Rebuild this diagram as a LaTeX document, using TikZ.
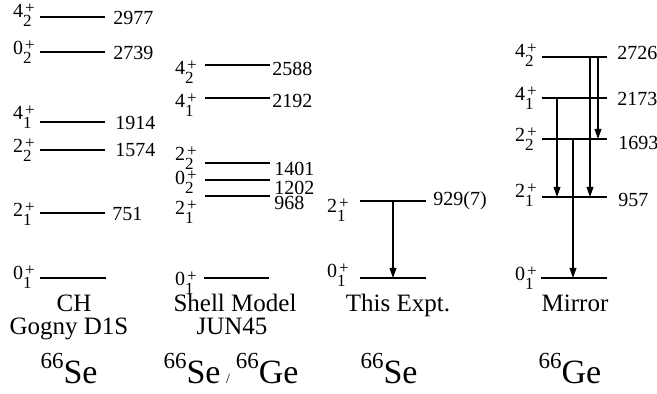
\documentclass[tikz,border=0pt]{standalone}
\usepackage{fontspec}
\setmainfont{Liberation Serif}
\usepackage{tikz}
\usetikzlibrary{arrows.meta}
\newcommand{\jpi}[2]{#1\rlap{\kern1pt\raisebox{0.22em}{\fontsize{8.5}{9}\selectfont+}}\raisebox{-0.42em}{\fontsize{8.5}{9}\selectfont#2}\hspace{2pt}}
\newcommand{\nuc}[2]{\raisebox{0.42em}{\fontsize{11.5}{12}\selectfont#1}#2}
\tikzset{
  lvl/.style={line width=0.6pt},
  gam/.style={line width=0.6pt, -{Triangle[length=5pt,width=3.4pt]}},
  en/.style={anchor=west, inner sep=0pt, font=\fontsize{10}{12}\selectfont},
  jp/.style={anchor=base east, inner sep=0pt, font=\fontsize{10}{12}\selectfont},
  ttl/.style={anchor=base, inner sep=0pt, font=\fontsize{12.5}{14}\selectfont},
  iso/.style={anchor=base, inner sep=0pt, font=\fontsize{17}{20}\selectfont}
}

\begin{document}
\begin{tikzpicture}[x=0.5pt, y=-0.5pt]
  \useasboundingbox (0,0) rectangle (657,394);

  \draw[lvl] (40,17) coordinate (ch42) -- (105,17);
  \draw[lvl] (40,52) coordinate (ch02) -- (105,52);
  \draw[lvl] (40,122) coordinate (ch41) -- (105,122);
  \draw[lvl] (40,150) coordinate (ch22) -- (105,150);
  \draw[lvl] (40,213) coordinate (ch21) -- (105,213);
  \draw[lvl] (40,278) coordinate (ch01) -- (106,278);
  \node[en] (ch42e) at (113,18) {2977};
  \node[en] (ch02e) at (113,53) {2739};
  \node[en] (ch41e) at (115,123) {1914};
  \node[en] (ch22e) at (115,150) {1574};
  \node[en] (ch21e) at (112,214) {751};
  \node[jp] (ch42j) at (32,18) {\jpi{4}{2}};
  \node[jp] (ch02j) at (32,55) {\jpi{0}{2}};
  \node[jp] (ch41j) at (32,120) {\jpi{4}{1}};
  \node[jp] (ch22j) at (32,153) {\jpi{2}{2}};
  \node[jp] (ch21j) at (32,217) {\jpi{2}{1}};
  \node[jp] (ch01j) at (32,280) {\jpi{0}{1}};
  \node[ttl] (chname) at (74,312) {CH};
  \node[ttl] (chint) at (69,335) {Gogny D1S};
  \node[iso] (chnuc) at (69,383) {\nuc{66}{Se}};

  \draw[lvl] (205,65) coordinate (sm42) -- (270,65);
  \draw[lvl] (205,98) coordinate (sm41) -- (270,98);
  \draw[lvl] (205,163) coordinate (sm22) -- (270,163);
  \draw[lvl] (205,180) coordinate (sm02) -- (270,180);
  \draw[lvl] (205,196) coordinate (sm21) -- (270,196);
  \draw[lvl] (204,278) coordinate (sm01) -- (269,278);
  \node[en] (sm42e) at (272,69) {2588};
  \node[en] (sm41e) at (272,101) {2192};
  \node[en] (sm22e) at (274,169) {1401};
  \node[en] (sm02e) at (274,188) {1202};
  \node[en] (sm21e) at (274,203) {968};
  \node[jp] (sm42j) at (194,75) {\jpi{4}{2}};
  \node[jp] (sm41j) at (194,108) {\jpi{4}{1}};
  \node[jp] (sm22j) at (194,161) {\jpi{2}{2}};
  \node[jp] (sm02j) at (194,185) {\jpi{0}{2}};
  \node[jp] (sm21j) at (194,215) {\jpi{2}{1}};
  \node[jp] (sm01j) at (194,286) {\jpi{0}{1}};
  \node[ttl] (smname) at (235,312) {Shell Model};
  \node[ttl] (smint) at (232,335) {JUN45};
  \node[iso] (smnuc) at (231,383) {\nuc{66}{Se}\,{\fontsize{7}{8}\selectfont/}\,\nuc{66}{Ge}};

  \draw[lvl] (360,201) coordinate (ex21) -- (426,201);
  \draw[lvl] (360,278) coordinate (ex01) -- (426,278);
  \node[en] (ex21e) at (433,201) {929(7)};
  \node[jp] (ex21j) at (346,213) {\jpi{2}{1}};
  \node[jp] (ex01j) at (346,278) {\jpi{0}{1}};
  \coordinate (exg) at (393,0);
  \draw[gam] (exg |- ex21) -- (exg |- ex01);
  \node[ttl] (exname) at (398,312) {This Expt.};
  \node[iso] (exnuc) at (389,383) {\nuc{66}{Se}};

  \draw[lvl] (542,57) coordinate (mi42) -- (607,57);
  \draw[lvl] (542,98) coordinate (mi41) -- (607,98);
  \draw[lvl] (542,139) coordinate (mi22) -- (607,139);
  \draw[lvl] (542,197) coordinate (mi21) -- (607,197);
  \draw[lvl] (541,278) coordinate (mi01) -- (607,278);
  \node[en] (mi42e) at (617,53) {2726};
  \node[en] (mi41e) at (617,99) {2173};
  \node[en] (mi22e) at (618,143) {1693};
  \node[en] (mi21e) at (618,200) {957};
  \node[jp] (mi42j) at (534,58) {\jpi{4}{2}};
  \node[jp] (mi41j) at (534,101) {\jpi{4}{1}};
  \node[jp] (mi22j) at (534,142) {\jpi{2}{2}};
  \node[jp] (mi21j) at (534,198) {\jpi{2}{1}};
  \node[jp] (mi01j) at (534,281) {\jpi{0}{1}};
  \coordinate (mig1) at (557,0);
  \coordinate (mig2) at (573,0);
  \coordinate (mig3) at (590,0);
  \coordinate (mig4) at (598,0);
  \draw[gam] (mig1 |- mi41) -- (mig1 |- mi21);
  \draw[gam] (mig2 |- mi22) -- (mig2 |- mi01);
  \draw[gam] (mig3 |- mi42) -- (mig3 |- mi21);
  \draw[gam] (mig4 |- mi42) -- (mig4 |- mi22);
  \node[ttl] (miname) at (575,312) {Mirror};
  \node[iso] (minuc) at (570,383) {\nuc{66}{Ge}};
\end{tikzpicture}
\end{document}
